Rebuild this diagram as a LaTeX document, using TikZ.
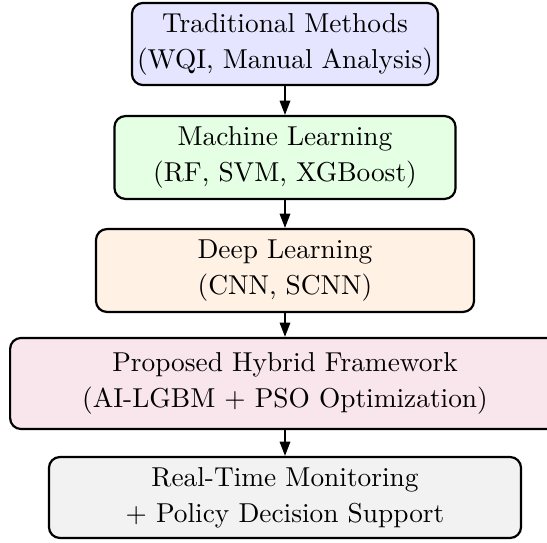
\documentclass[tikz,border=0pt]{standalone}
\usetikzlibrary{arrows.meta}
\begin{document}
\begin{tikzpicture}[x=0.3656pt,y=-0.3656pt,
  stage/.style={draw=black, thick, rounded corners=4pt, align=center, inner sep=0pt,
    font=\fontsize{10}{13.2}\selectfont},
  flow/.style={-{Triangle[width=3.8pt,length=5.2pt]}, line width=0.7pt}]
\useasboundingbox (0,0) rectangle (547,543);
\node[stage, fill=blue!10, minimum width=111.9pt, minimum height=30pt] (trad) at (285,44)
  {Traditional Methods\\(WQI, Manual Analysis)};
\node[stage, fill=green!10, minimum width=124.7pt, minimum height=30.3pt] (ml) at (285,157.5)
  {Machine Learning\\(RF, SVM, XGBoost)};
\node[stage, fill=orange!10, minimum width=138.2pt, minimum height=30.3pt] (dl) at (285,270.5)
  {Deep Learning\\(CNN, SCNN)};
\node[stage, fill=purple!10, minimum width=201pt, minimum height=33.3pt] (hyb) at (285,383.5)
  {Proposed Hybrid Framework\\(AI-LGBM + PSO Optimization)};
\node[stage, fill=gray!10, minimum width=172.6pt, minimum height=29.6pt] (rt) at (285,497.5)
  {Real-Time Monitoring\\+ Policy Decision Support};
\draw[flow] (trad) -- (ml);
\draw[flow] (ml) -- (dl);
\draw[flow] (dl) -- (hyb);
\draw[flow] (hyb) -- (rt);
\end{tikzpicture}
\end{document}
